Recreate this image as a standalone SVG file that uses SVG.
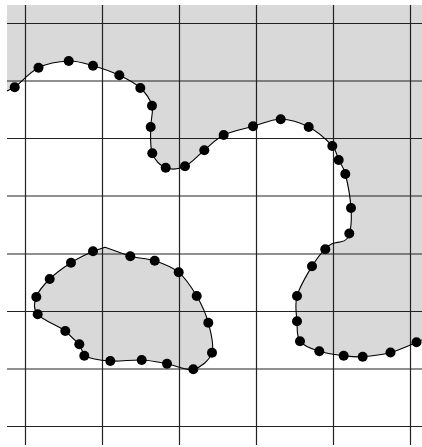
<svg xmlns="http://www.w3.org/2000/svg" width="422" height="447" viewBox="0 0 422 447">
<style>
.fill{fill:#d9d9d9;stroke:none}
.grid line{stroke:#222;stroke-width:1.2}
.curve{fill:none;stroke:#000;stroke-width:1.1;stroke-linejoin:round}
.dots circle{fill:#000}
</style>
<rect width="422" height="447" fill="#fff"/>
<g id="regions">
<path class="fill" d="M7,91 L14.7,87.3 C19.95,83.42 29.5,72.08 38.5,67.7 C47.5,63.32 59.62,61.33 68.7,61 C77.78,60.67 84.57,63.32 93,65.7 C101.43,68.08 111.42,71.58 119.3,75.3 C127.18,79.02 134.85,82.93 140.3,88 C145.75,93.07 150.27,99.2 152,105.7 C153.73,112.2 150.65,119.07 150.7,127 C150.75,134.93 149.8,146.52 152.3,153.3 C154.8,160.08 160.25,165.53 165.7,167.7 C171.15,169.87 178.57,169.2 185,166.3 C191.43,163.4 197.85,155.52 204.3,150.3 C210.75,145.08 215.58,139 223.7,135 C231.82,131 243.5,128.92 253,126.3 C262.5,123.68 271.42,119.18 280.7,119.3 C289.98,119.42 300.1,122.55 308.7,127 C317.3,131.45 327.3,140.5 332.3,146 C337.3,151.5 336.53,155.33 338.7,160 C340.87,164.67 343.25,166 345.3,174 C347.35,182 350.33,198.08 351,208 C351.67,217.92 351.13,227.92 349.3,233.5 C348.5,238 346,241 341,241.8 C334,243 330,243 325.3,249.3 C320.47,253.38 316.72,258.52 312,266.3 C307.28,274.08 299.5,286.83 297,296 C294.5,305.17 296.5,313.75 297,321.3 C297.5,328.850 296.28,336.3 300,341.3 C303.72,346.3 312.02,348.9 319.3,351.3 C326.58,353.7 336.47,354.8 343.7,355.7 C350.93,356.6 354.9,357.23 362.7,356.7 C370.5,356.17 381.53,354.9 390.5,352.5 C399.47,350.1 411.25,344.38 416.5,342.3 L422,340 L422,5 L7,5 Z"/>
<path class="fill" d="M93,251.3 L105,247.3 L130.3,256.3 C138.58,258.53 146.63,258.03 154.7,260.7 C162.77,263.37 171.7,266.42 178.7,272.3 C185.7,278.18 191.77,287.6 196.7,296 C201.63,304.4 205.75,313.25 208.3,322.7 C210.85,332.15 214.5,344.93 212,352.7 C209.5,360.47 200.8,367.47 193.3,369.3 C185.8,371.13 175.6,365.25 167,363.7 C158.4,362.15 151.15,360.45 141.7,360 C132.25,359.55 119.87,361.72 110.3,361 C100.73,360.28 89.47,358.48 84.3,355.7 L79.3,344.3 L65.3,331 C58.37,326 42.53,319.97 37.7,314.3 C32.87,308.63 34.3,302.88 36.3,297 C38.3,291.12 43.92,284.72 49.7,279 C55.48,273.28 63.78,267.32 71,262.7 C78.22,258.08 87.33,253.87 93,251.3 Z"/>
</g>
<g id="grid" class="grid">
<line x1="25.5" y1="5" x2="25.5" y2="445"/>
<line x1="102.5" y1="5" x2="102.5" y2="445"/>
<line x1="179.5" y1="5" x2="179.5" y2="445"/>
<line x1="256.5" y1="5" x2="256.5" y2="445"/>
<line x1="333.5" y1="5" x2="333.5" y2="445"/>
<line x1="410.5" y1="5" x2="410.5" y2="445"/>
<line x1="7" y1="23.5" x2="422" y2="23.5"/>
<line x1="7" y1="81" x2="422" y2="81"/>
<line x1="7" y1="138.5" x2="422" y2="138.5"/>
<line x1="7" y1="196" x2="422" y2="196"/>
<line x1="7" y1="254" x2="422" y2="254"/>
<line x1="7" y1="311.5" x2="422" y2="311.5"/>
<line x1="7" y1="369" x2="422" y2="369"/>
<line x1="7" y1="426.5" x2="422" y2="426.5"/>
</g>
<g id="connectors">
<path class="curve" d="M7,91 L14.7,87.3 C19.95,83.42 29.5,72.08 38.5,67.7 C47.5,63.32 59.62,61.33 68.7,61 C77.78,60.67 84.57,63.32 93,65.7 C101.43,68.08 111.42,71.58 119.3,75.3 C127.18,79.02 134.85,82.93 140.3,88 C145.75,93.07 150.27,99.2 152,105.7 C153.73,112.2 150.65,119.07 150.7,127 C150.75,134.93 149.8,146.52 152.3,153.3 C154.8,160.08 160.25,165.53 165.7,167.7 C171.15,169.87 178.57,169.2 185,166.3 C191.43,163.4 197.85,155.52 204.3,150.3 C210.75,145.08 215.58,139 223.7,135 C231.82,131 243.5,128.92 253,126.3 C262.5,123.68 271.42,119.18 280.7,119.3 C289.98,119.42 300.1,122.55 308.7,127 C317.3,131.45 327.3,140.5 332.3,146 C337.3,151.5 336.53,155.33 338.7,160 C340.87,164.67 343.25,166 345.3,174 C347.35,182 350.33,198.08 351,208 C351.67,217.92 351.13,227.92 349.3,233.5 C348.5,238 346,241 341,241.8 C334,243 330,243 325.3,249.3 C320.47,253.38 316.72,258.52 312,266.3 C307.28,274.08 299.5,286.83 297,296 C294.5,305.17 296.5,313.75 297,321.3 C297.5,328.85 296.28,336.3 300,341.3 C303.72,346.3 312.02,348.9 319.3,351.3 C326.58,353.7 336.47,354.8 343.7,355.7 C350.93,356.6 354.9,357.23 362.7,356.7 C370.5,356.17 381.53,354.9 390.5,352.5 C399.47,350.1 411.25,344.38 416.5,342.3 L422,340"/>
<path class="curve" d="M93,251.3 L105,247.3 L130.3,256.3 C138.58,258.53 146.63,258.03 154.7,260.7 C162.77,263.37 171.7,266.42 178.7,272.3 C185.7,278.18 191.77,287.6 196.7,296 C201.63,304.4 205.75,313.25 208.3,322.7 C210.85,332.15 214.5,344.93 212,352.7 C209.5,360.47 200.8,367.47 193.3,369.3 C185.8,371.13 175.6,365.25 167,363.7 C158.4,362.15 151.15,360.45 141.7,360 C132.25,359.55 119.87,361.72 110.3,361 C100.73,360.28 89.47,358.48 84.3,355.7 L79.3,344.3 L65.3,331 C58.37,326 42.53,319.97 37.7,314.3 C32.87,308.63 34.3,302.88 36.3,297 C38.3,291.12 43.92,284.72 49.7,279 C55.48,273.28 63.78,267.32 71,262.7 C78.22,258.08 87.33,253.87 93,251.3 Z"/>
</g>
<g id="dots-upper" class="dots">
<circle cx="14.7" cy="87.3" r="5"/>
<circle cx="38.5" cy="67.7" r="5"/>
<circle cx="68.7" cy="61" r="5"/>
<circle cx="93" cy="65.7" r="5"/>
<circle cx="119.3" cy="75.3" r="5"/>
<circle cx="140.3" cy="88" r="5"/>
<circle cx="152" cy="105.7" r="5"/>
<circle cx="150.7" cy="127" r="5"/>
<circle cx="152.3" cy="153.3" r="5"/>
<circle cx="165.7" cy="167.7" r="5"/>
<circle cx="185" cy="166.3" r="5"/>
<circle cx="204.3" cy="150.3" r="5"/>
<circle cx="223.7" cy="135" r="5"/>
<circle cx="253" cy="126.3" r="5"/>
<circle cx="280.7" cy="119.3" r="5"/>
<circle cx="308.7" cy="127" r="5"/>
<circle cx="332.3" cy="146" r="5"/>
<circle cx="338.7" cy="160" r="5"/>
<circle cx="345.3" cy="174" r="5"/>
<circle cx="351" cy="208" r="5"/>
<circle cx="349.3" cy="233.5" r="5"/>
<circle cx="325.3" cy="249.3" r="5"/>
<circle cx="312" cy="266.3" r="5"/>
<circle cx="297" cy="296" r="5"/>
<circle cx="297" cy="321.3" r="5"/>
<circle cx="300" cy="341.3" r="5"/>
<circle cx="319.3" cy="351.3" r="5"/>
<circle cx="343.7" cy="355.7" r="5"/>
<circle cx="362.7" cy="356.7" r="5"/>
<circle cx="390.5" cy="352.5" r="5"/>
<circle cx="416.5" cy="342.3" r="5"/>
</g>
<g id="dots-blob" class="dots">
<circle cx="93" cy="251.3" r="5"/>
<circle cx="130.3" cy="256.3" r="5"/>
<circle cx="154.7" cy="260.7" r="5"/>
<circle cx="178.7" cy="272.3" r="5"/>
<circle cx="196.7" cy="296" r="5"/>
<circle cx="208.3" cy="322.7" r="5"/>
<circle cx="212" cy="352.7" r="5"/>
<circle cx="193.3" cy="369.3" r="5"/>
<circle cx="167" cy="363.7" r="5"/>
<circle cx="141.7" cy="360" r="5"/>
<circle cx="110.3" cy="361" r="5"/>
<circle cx="84.3" cy="355.7" r="5"/>
<circle cx="79.3" cy="344.3" r="5"/>
<circle cx="65.3" cy="331" r="5"/>
<circle cx="37.7" cy="314.3" r="5"/>
<circle cx="36.3" cy="297" r="5"/>
<circle cx="49.7" cy="279" r="5"/>
<circle cx="71" cy="262.7" r="5"/>
</g>
</svg>
